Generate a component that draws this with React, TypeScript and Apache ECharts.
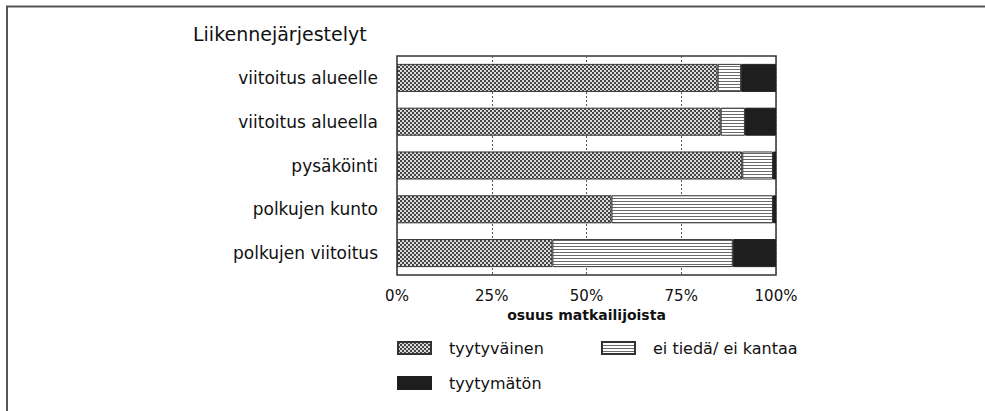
import React, { useEffect, useRef } from "react";
import * as echarts from "echarts";

const title = "Liikennejärjestelyt";
const categories = [
  "viitoitus alueelle",
  "viitoitus alueella",
  "pysäköinti",
  "polkujen kunto",
  "polkujen viitoitus",
];
const seriesNames = ["tyytyväinen", "ei tiedä/ ei kantaa", "tyytymätön"];
const tyytyvainen = [84.6, 85.4, 91.1, 56.6, 41.0];
const eiTieda = [6.2, 6.4, 8.1, 42.6, 47.6];
const tyytymaton = [9.2, 8.2, 0.8, 0.8, 11.4];
const xTicks = [0, 25, 50, 75, 100];
const axisName = "osuus matkailijoista";

function makeChecker(): HTMLCanvasElement {
  const c = document.createElement("canvas");
  c.width = 4;
  c.height = 4;
  const ctx = c.getContext("2d")!;
  ctx.fillStyle = "#dcdcdc";
  ctx.fillRect(0, 0, 4, 4);
  ctx.fillStyle = "#454545";
  ctx.fillRect(0, 0, 2, 2);
  ctx.fillRect(2, 2, 2, 2);
  return c;
}

function makeLines(): HTMLCanvasElement {
  const c = document.createElement("canvas");
  c.width = 4;
  c.height = 3;
  const ctx = c.getContext("2d")!;
  ctx.fillStyle = "#ffffff";
  ctx.fillRect(0, 0, 4, 3);
  ctx.fillStyle = "#6a6a6a";
  ctx.fillRect(0, 0, 4, 1);
  return c;
}

export default function App() {
  const ref = useRef<HTMLDivElement>(null);
  useEffect(() => {
    document.body.style.margin = "0";
    const chart = echarts.init(ref.current!, null, { renderer: "svg" });
    const checker = { image: makeChecker(), repeat: "repeat", imageWidth: 4, imageHeight: 4 } as any;
    const lines = { image: makeLines(), repeat: "repeat", imageWidth: 4, imageHeight: 3 } as any;
    const font = "DejaVu Sans";
    const barCommon = {
      type: "bar",
      stack: "total",
      barCategoryGap: "36%",
      silent: true,
    };
    const legendCommon = {
      orient: "horizontal",
      selectedMode: false,
      itemWidth: 33,
      itemHeight: 12,
      icon: "rect",
      textStyle: { fontFamily: font, fontSize: 16, color: "#111", padding: [0, 0, 0, 13] },
    };
    chart.setOption({
      animation: false,
      backgroundColor: "#ffffff",
      title: {
        text: title,
        left: 188,
        top: 19,
        textStyle: { fontFamily: font, fontSize: 19, fontWeight: "normal", color: "#111" },
      },
      grid: {
        left: 397,
        top: 56,
        width: 379,
        height: 219,
        show: true,
        borderColor: "#333",
        borderWidth: 1.5,
        containLabel: false,
      },
      xAxis: {
        type: "value",
        min: 0,
        max: 100,
        interval: 25,
        axisLine: { show: false },
        axisTick: { show: false },
        splitLine: { show: true, lineStyle: { type: [2, 2], color: "#555", width: 1 } },
        axisLabel: {
          formatter: (v: number) => (xTicks.includes(v) ? v + "%" : ""),
          fontFamily: font,
          fontSize: 15,
          fontWeight: "normal",
          color: "#111",
          margin: 13,
        },
        name: axisName,
        nameLocation: "middle",
        nameGap: 31,
        nameTextStyle: { fontFamily: font, fontSize: 14, fontWeight: "bold", color: "#111" },
      },
      yAxis: {
        type: "category",
        data: categories,
        inverse: true,
        axisLine: { show: false },
        axisTick: { show: false },
        splitLine: { show: false },
        axisLabel: { fontFamily: font, fontSize: 17, color: "#111", margin: 19 },
      },
      legend: [
        { ...legendCommon, left: 392, top: 335, data: [seriesNames[0]] },
        { ...legendCommon, left: 596, top: 335, data: [seriesNames[1]] },
        { ...legendCommon, left: 392, top: 370, data: [seriesNames[2]] },
      ],
      series: [
        {
          ...barCommon,
          name: seriesNames[0],
          data: tyytyvainen,
          itemStyle: { color: checker, borderColor: "#333", borderWidth: 1 },
        },
        {
          ...barCommon,
          name: seriesNames[1],
          data: eiTieda,
          itemStyle: { color: lines, borderColor: "#333", borderWidth: 1 },
        },
        {
          ...barCommon,
          name: seriesNames[2],
          data: tyytymaton,
          itemStyle: { color: "#1e1e1e", borderColor: "#1e1e1e", borderWidth: 1 },
        },
      ],
      graphic: [
        {
          type: "polyline",
          silent: true,
          shape: { points: [[7, 411], [7, 6.5], [985, 6.5]] },
          style: { stroke: "#555", lineWidth: 2, fill: null },
        },
      ],
    });
    return () => chart.dispose();
  }, []);
  return <div ref={ref} style={{ width: 985, height: 411 }} />;
}
